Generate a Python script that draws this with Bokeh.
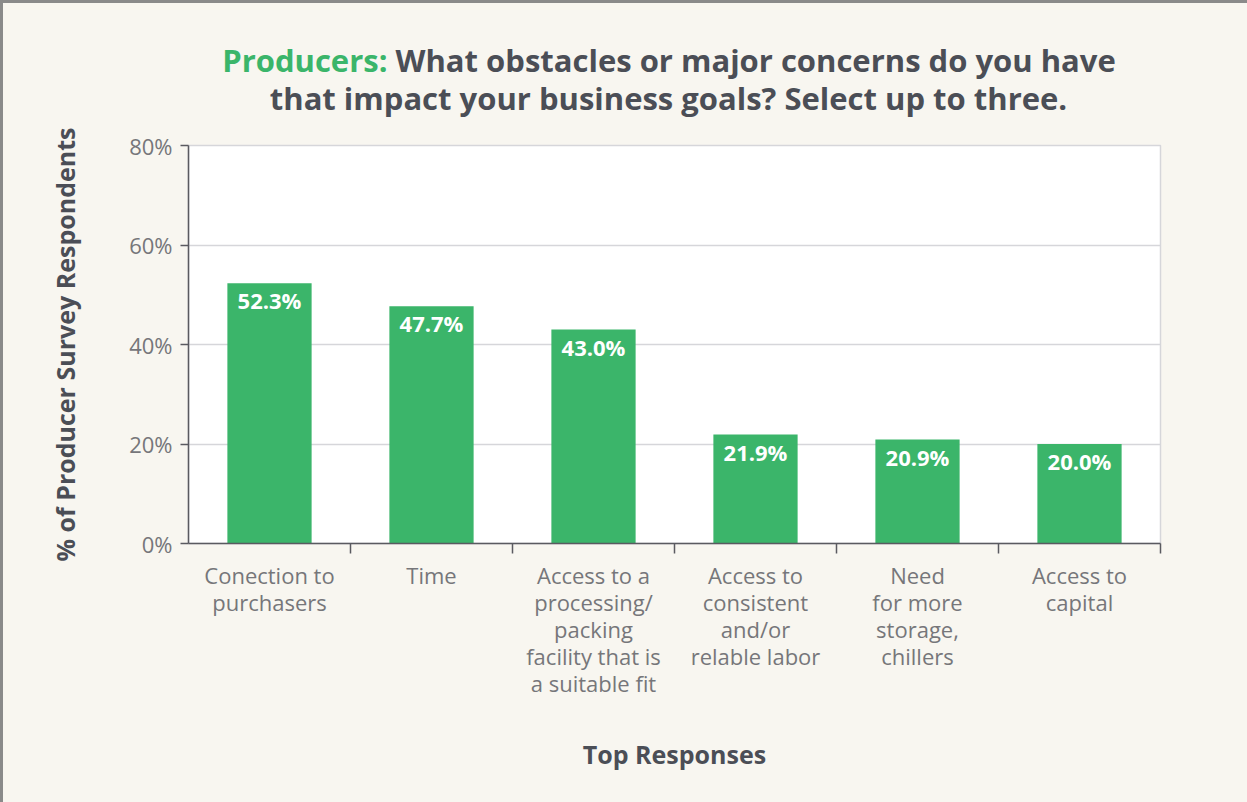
from bokeh.plotting import figure
from bokeh.layouts import column
from bokeh.models import FixedTicker, ColumnDataSource, Range1d
from bokeh.core.properties import value
from bokeh.embed import file_html
from bokeh.resources import INLINE

categories = [
    "Conection to\npurchasers",
    "Time",
    "Access to a\nprocessing/\npacking\nfacility that is\na suitable fit",
    "Access to\nconsistent\nand/or\nrelable labor",
    "Need\nfor more\nstorage,\nchillers",
    "Access to\ncapital",
]
values = [52.3, 47.7, 43.0, 21.9, 20.9, 20.0]
y_ticks = [0, 20, 40, 60, 80]
y_tick_labels = ["0%", "20%", "40%", "60%", "80%"]
title_lead = "Producers:"
title_line1 = "What obstacles or major concerns do you have"
title_line2 = "that impact your business goals? Select up to three."

GREEN = "#3bb56a"
DARK = "#4b4e56"
TICKGRAY = "#76767a"
BG = "#f8f6f0"
FONT = "Open Sans"

W = 1244
TH = 120
CH = 799 - TH
BL, BR = 185, 87  # left/right borders of the chart frame (canvas px)

# ---------- title figure (frames are aligned in the column, so map canvas px) ----------
t = figure(width=W, height=TH, output_backend="svg", toolbar_location=None,
           x_range=Range1d(BL, W - BR), y_range=Range1d(TH, 0),
           min_border_left=BL, min_border_right=BR, min_border_top=0, min_border_bottom=0,
           x_axis_type=None, y_axis_type=None)
t.background_fill_color = BG
t.border_fill_color = BG
t.outline_line_color = None
t.grid.visible = False
t.text(x=[384], y=[56], text=[title_lead], text_align="right", text_baseline="middle",
       text_font=value(FONT), text_font_style="bold", text_font_size="31px", text_color=GREEN)
t.text(x=[392], y=[56], text=[title_line1], text_align="left", text_baseline="middle",
       text_font=value(FONT), text_font_style="bold", text_font_size="31px", text_color=DARK)
t.text(x=[665], y=[94], text=[title_line2], text_align="center", text_baseline="middle",
       text_font=value(FONT), text_font_style="bold", text_font_size="31px", text_color=DARK)

# ---------- chart ----------
n = len(categories)
xs = [i + 0.5 for i in range(n)]
src = ColumnDataSource(dict(x=xs, top=values, lab=[f"{v:.1f}%" for v in values]))

p = figure(width=W, height=CH, output_backend="svg", toolbar_location=None,
           x_range=Range1d(0, n), y_range=Range1d(0, 80),
           min_border_left=BL, min_border_right=BR, min_border_top=142 - TH,
           min_border_bottom=799 - 540)
p.background_fill_color = "white"
p.border_fill_color = BG
p.outline_line_color = "#d6d6da"
p.outline_line_width = 1.5

p.vbar(x="x", top="top", width=0.52, bottom=0, source=src, fill_color=GREEN, line_color=None)
p.text(x="x", y="top", text="lab", source=src, text_align="center", text_baseline="top",
       y_offset=2, text_color="white", text_font=value(FONT), text_font_style="bold",
       text_font_size="22px")

p.xgrid.visible = False
p.ygrid.grid_line_color = "#d6d6da"
p.ygrid.grid_line_width = 1.5
p.ygrid.ticker = FixedTicker(ticks=y_ticks)

ya = p.yaxis[0]
ya.ticker = FixedTicker(ticks=y_ticks, minor_ticks=[])
ya.major_label_overrides = {tk: lb for tk, lb in zip(y_ticks, y_tick_labels)}
ya.axis_line_color = "#5a5a60"
ya.axis_line_width = 1.5
ya.major_tick_line_color = "#5a5a60"
ya.major_tick_line_width = 1.5
ya.major_tick_out = 8
ya.major_tick_in = 0
ya.major_label_standoff = 8
ya.major_label_text_font = FONT
ya.major_label_text_font_size = "22px"
ya.major_label_text_color = TICKGRAY
ya.axis_label = "% of Producer Survey Respondents"
ya.axis_label_text_font = FONT
ya.axis_label_text_font_style = "bold"
ya.axis_label_text_font_size = "25px"
ya.axis_label_text_color = DARK
ya.axis_label_standoff = 44

xa = p.xaxis[0]
xa.ticker = FixedTicker(ticks=xs, minor_ticks=list(range(1, n + 1)))
xa.major_label_overrides = {x: c for x, c in zip(xs, categories)}
xa.axis_line_color = "#5a5a60"
xa.axis_line_width = 1.5
xa.major_tick_out = 0
xa.major_tick_in = 0
xa.minor_tick_line_color = "#5a5a60"
xa.minor_tick_line_width = 1.5
xa.minor_tick_out = 10
xa.minor_tick_in = 0
xa.major_label_standoff = 6
xa.major_label_text_font = FONT
xa.major_label_text_font_size = "22px"
xa.major_label_text_color = TICKGRAY
xa.major_label_text_line_height = 0.9
xa.axis_label = "Top Responses"
xa.axis_label_text_font = FONT
xa.axis_label_text_font_style = "bold"
xa.axis_label_text_font_size = "25px"
xa.axis_label_text_color = DARK
xa.axis_label_standoff = 36

layout = column(t, p, spacing=0,
                styles={"border-left": "3px solid #8a8a8a", "border-top": "3px solid #8a8a8a",
                        "background-color": BG})
open("out.html", "w").write(file_html(layout, INLINE))
